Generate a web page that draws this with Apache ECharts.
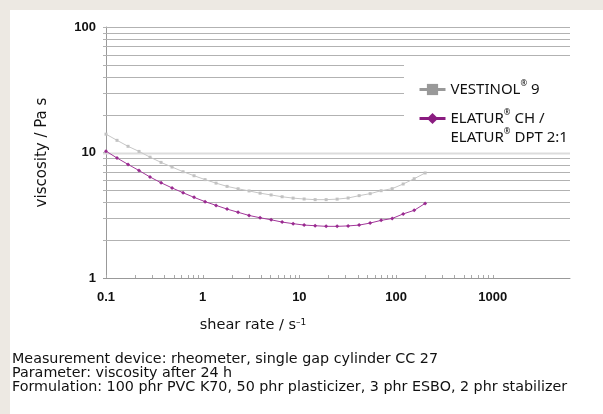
<!DOCTYPE html>
<html><head><meta charset="utf-8">
<script src="https://cdn.jsdelivr.net/npm/echarts@6/dist/echarts.min.js"></script>
<style>html,body{margin:0;padding:0;background:#fff}#c{width:603px;height:414px}</style>
</head><body><div id="c"></div>
<script>
// shear rate (1/s), 30 log-spaced measurement points
const shearRate = [0.1, 0.13, 0.169, 0.2196, 0.2853, 0.371, 0.482, 0.6264, 0.8143, 1.058,
  1.375, 1.788, 2.323, 3.019, 3.925, 5.101, 6.63, 8.616, 11.2, 14.56,
  18.92, 24.59, 31.96, 41.53, 53.98, 70.15, 91.17, 118.5, 154, 200];
// viscosity (Pa s)
const vestinol = [14.0, 12.5, 11.2, 10.2, 9.18, 8.34, 7.66, 7.03, 6.53, 6.08,
  5.7, 5.37, 5.14, 4.94, 4.74, 4.59, 4.44, 4.33, 4.26, 4.21,
  4.21, 4.25, 4.34, 4.53, 4.7, 4.96, 5.15, 5.61, 6.18, 6.87];
const elatur = [10.25, 9.04, 8.04, 7.18, 6.38, 5.74, 5.22, 4.78, 4.39, 4.06,
  3.79, 3.54, 3.34, 3.15, 3.02, 2.91, 2.79, 2.71, 2.64, 2.61,
  2.58, 2.58, 2.6, 2.64, 2.74, 2.88, 2.98, 3.24, 3.46, 3.93];
const seriesNames = ['VESTINOL® 9', 'ELATUR® CH /\nELATUR® DPT 2:1'];
const xAxisRange = [0.1, 6300];
const yAxisRange = [1, 100];
const hGridValues = [2, 3, 4, 5, 6, 7, 8, 9, 10, 20, 30, 40, 50, 60, 70, 80, 90, 100];
const xTickValues = [0.1, 0.2, 0.3, 0.4, 0.5, 0.6, 0.7, 0.8, 0.9, 1, 2, 3, 4, 5, 6, 7, 8, 9,
  10, 20, 30, 40, 50, 60, 70, 80, 90, 100, 200, 300, 400, 500, 600, 700, 800, 900, 1000];
const footLines = [
  'Measurement device: rheometer, single gap cylinder CC 27',
  'Parameter: viscosity after 24 h',
  'Formulation: 100 phr PVC K70, 50 phr plasticizer, 3 phr ESBO, 2 phr stabilizer'
];

const FONT = 'Noto Sans';
const WIDE = 'DejaVu Sans';
const chart = echarts.init(document.getElementById('c'), null, {renderer: 'canvas'});
chart.setOption({
  animation: false,
  graphic: [
    {type: 'rect', z: -10, shape: {x: 0, y: 0, width: 603, height: 10}, style: {fill: '#ede9e3'}},
    {type: 'rect', z: -10, shape: {x: 0, y: 0, width: 10, height: 414}, style: {fill: '#ede9e3'}}
  ],
  title: {
    text: footLines.join('\n'), left: 12, top: 352, padding: 0,
    textStyle: {fontFamily: WIDE, fontSize: 14.3, fontWeight: 'normal', lineHeight: 14, color: '#111'}
  },
  grid: {left: 106, right: 33, top: 27, bottom: 136, containLabel: false},
  xAxis: {
    type: 'log', logBase: 10, min: xAxisRange[0], max: xAxisRange[1],
    name: 'shear rate / s{sup|–1}', nameLocation: 'middle', nameGap: 40,
    nameTextStyle: {fontFamily: WIDE, fontSize: 14.5, color: '#111', padding: [0, 170, 0, 0],
      rich: {sup: {fontFamily: WIDE, fontSize: 9, verticalAlign: 'top', color: '#111'}}},
    axisLine: {lineStyle: {color: '#999', width: 1}},
    axisTick: {show: false},
    splitLine: {show: false},
    axisLabel: {showMaxLabel: false, margin: 13, fontFamily: 'Liberation Sans', fontWeight: 'bold', fontSize: 13, color: '#111',
      formatter: v => (v >= 1 ? String(Math.round(v)) : String(+v.toPrecision(3)))}
  },
  yAxis: {
    type: 'log', logBase: 10, min: yAxisRange[0], max: yAxisRange[1],
    name: 'viscosity / Pa s', nameLocation: 'middle', nameGap: 56, nameRotate: 90,
    nameTextStyle: {fontFamily: WIDE, fontSize: 15, color: '#111'},
    axisLine: {lineStyle: {color: '#999', width: 1}},
    axisTick: {show: true, length: 3, lineStyle: {color: '#999'}},
    splitLine: {show: false},
    axisLabel: {margin: 10, fontFamily: 'Liberation Sans', fontWeight: 'bold', fontSize: 13, color: '#111',
      formatter: v => String(Math.round(v))}
  },
  legend: {
    orient: 'vertical', left: 404, top: 58, backgroundColor: '#fff',
    padding: [22, 8, 2, 14], itemWidth: 26, itemHeight: 14, itemGap: -9,
    textStyle: {fontFamily: FONT, fontSize: 15, color: '#111', lineHeight: 19,
      rich: {r: {fontFamily: FONT, fontSize: 8, verticalAlign: 'top', color: '#111', lineHeight: 19}}},
    formatter: n => n.replace(/®/g, '{r|®}'),
    data: [
      {name: seriesNames[0], itemStyle: {color: '#999'}, lineStyle: {color: '#999', width: 3}},
      {name: seriesNames[1], itemStyle: {color: '#8a1c80'}, lineStyle: {color: '#8a1c80', width: 3},
        textStyle: {padding: [19, 0, 0, 0]}}
    ]
  },
  series: [
    {
      type: 'custom', z: 1, silent: true, coordinateSystem: 'cartesian2d',
      data: hGridValues.map(v => [xAxisRange[0], v]),
      renderItem: (params, api) => {
        const v = api.value(1);
        const a = api.coord([xAxisRange[0], v]);
        const b = api.coord([xAxisRange[1], v]);
        const y = Math.round(a[1]) + 0.5;
        const major = v === 10;
        return {type: 'line', shape: {x1: a[0] - 3, y1: y, x2: b[0], y2: y},
          style: {stroke: major ? '#dcdcdc' : '#b2b2b2', lineWidth: major ? 2 : 1}};
      }
    },
    {
      type: 'custom', z: 1, silent: true, coordinateSystem: 'cartesian2d',
      data: xTickValues.map(v => [v, yAxisRange[0]]),
      renderItem: (params, api) => {
        const p = api.coord([api.value(0), api.value(1)]);
        const x = Math.round(p[0]) + 0.5;
        return {type: 'line', shape: {x1: x, y1: p[1], x2: x, y2: p[1] - 3},
          style: {stroke: '#aaa', lineWidth: 1}};
      }
    },
    {
      name: seriesNames[0], type: 'line', z: 3,
      data: shearRate.map((x, i) => [x, vestinol[i]]),
      symbol: 'rect', symbolSize: 3, showSymbol: true,
      lineStyle: {color: '#c6c6c6', width: 1},
      itemStyle: {color: '#c2c2c2'}
    },
    {
      name: seriesNames[1], type: 'line', z: 4,
      data: shearRate.map((x, i) => [x, elatur[i]]),
      symbol: 'diamond', symbolSize: 4, showSymbol: true,
      lineStyle: {color: '#a2389a', width: 1},
      itemStyle: {color: '#9a2a90'}
    }
  ]
});
</script></body></html>
